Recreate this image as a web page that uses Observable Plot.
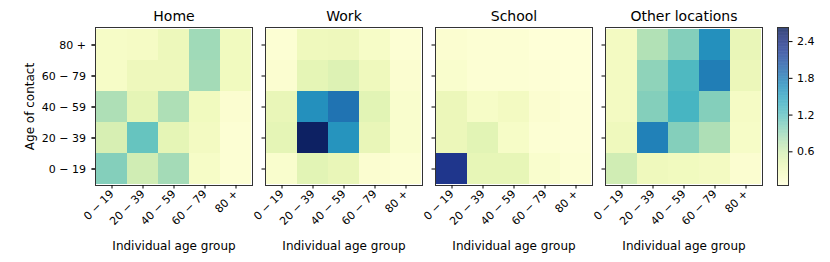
<!DOCTYPE html>
<html>
<head>
<meta charset="utf-8">
<script src="https://cdn.jsdelivr.net/npm/d3@7"></script>
<script src="https://cdn.jsdelivr.net/npm/@observablehq/plot@0.6"></script>
<style>
  html, body { margin: 0; padding: 0; background: white; }
  #row { display: flex; flex-direction: row; width: 830px; height: 262px; }
  #row svg { font-family: "DejaVu Sans", sans-serif !important; color: black; background: white; overflow: visible; }
</style>
</head>
<body>
<div id="row"></div>
<script>
const locations = ["Home", "Work", "School", "Other locations"];
const ageGroups = ["0 − 19", "20 − 39", "40 − 59", "60 − 79", "80 +"];
const colorTicks = [0.6, 1.2, 1.8, 2.4];
const colorDomain = [0.05, 2.63];

// rows: age of contact (0–19 … 80+), columns: individual age group (0–19 … 80+)
const home = [
  [1.00, 0.60, 0.85, 0.20, 0.10],
  [0.55, 1.15, 0.42, 0.25, 0.10],
  [0.80, 0.42, 0.80, 0.28, 0.12],
  [0.20, 0.32, 0.32, 0.85, 0.28],
  [0.20, 0.22, 0.33, 0.87, 0.28]
];
const work = [
  [0.15, 0.45, 0.38, 0.12, 0.10],
  [0.42, 2.57, 1.62, 0.38, 0.15],
  [0.38, 1.65, 1.85, 0.45, 0.15],
  [0.12, 0.42, 0.50, 0.30, 0.12],
  [0.10, 0.30, 0.32, 0.20, 0.10]
];
const school = [
  [2.32, 0.40, 0.40, 0.15, 0.10],
  [0.35, 0.45, 0.20, 0.10, 0.08],
  [0.35, 0.20, 0.25, 0.12, 0.08],
  [0.15, 0.10, 0.10, 0.08, 0.07],
  [0.12, 0.10, 0.10, 0.07, 0.07]
];
const other = [
  [0.60, 0.30, 0.28, 0.25, 0.12],
  [0.30, 1.76, 1.00, 0.80, 0.20],
  [0.25, 1.00, 1.33, 1.00, 0.22],
  [0.25, 0.95, 1.28, 1.78, 0.35],
  [0.25, 0.78, 1.00, 1.65, 0.38]
];

const matrices = [home, work, school, other];
const table = [];
locations.forEach((loc, k) => {
  matrices[k].forEach((row, i) => {
    row.forEach((v, j) => {
      table.push({loc, individual: ageGroups[j], contact: ageGroups[i], value: v});
    });
  });
});

const colorScale = {type: "linear", scheme: "ylgnbu", domain: colorDomain};

const main = Plot.plot({
  width: 776,
  height: 262,
  marginLeft: 93,
  marginRight: 12,
  marginTop: 27,
  marginBottom: 77,
  fx: {domain: locations, paddingInner: 0.076, paddingOuter: 0},
  x: {domain: ageGroups, padding: 0},
  y: {domain: ageGroups.slice().reverse(), padding: 0},
  color: colorScale,
  marks: [
    Plot.cell(table, {fx: "loc", x: "individual", y: "contact", fill: "value", inset: 0}),
    Plot.frame({stroke: "#333", strokeWidth: 1}),
    Plot.axisFx({anchor: "top", label: null, tickSize: 0, tickPadding: 7, fontSize: 14}),
    Plot.axisX({anchor: "bottom", tickRotate: -45, tickSize: 3.5, tickPadding: 3, label: null, fontSize: 11}),
    Plot.axisY({anchor: "left", tickSize: 3.5, tickPadding: 6, fontSize: 11, label: null}),
    Plot.axisY({anchor: "left", tickSize: 3.5, tickFormat: () => "", label: null, facetAnchor: null}),
    Plot.text([{loc: "Home", t: "Age of contact"}], {fx: "loc", text: "t", frameAnchor: "left", textAnchor: "middle", dx: -65, rotate: -90, fontSize: 12}),
    Plot.text(["Individual age group"], {frameAnchor: "bottom", dy: 64, fontSize: 12})
  ]
});

const steps = d3.range(colorDomain[0], colorDomain[1], 0.01);
const bar = Plot.plot({
  width: 54,
  height: 262,
  marginLeft: 1,
  marginRight: 42,
  marginTop: 27,
  marginBottom: 77,
  x: {domain: [0, 1], axis: null},
  y: {domain: colorDomain},
  color: colorScale,
  marks: [
    Plot.rect(steps, {x1: 0, x2: 1, y1: d => d, y2: d => Math.min(d + 0.011, colorDomain[1]), fill: d => d}),
    Plot.frame({stroke: "#333", strokeWidth: 1}),
    Plot.axisY({anchor: "right", ticks: colorTicks, tickFormat: d3.format(".1f"), tickSize: 3.5, tickPadding: 5, label: null, fontSize: 11})
  ]
});

const row = document.getElementById("row");
row.appendChild(main);
row.appendChild(bar);
</script>
</body>
</html>
